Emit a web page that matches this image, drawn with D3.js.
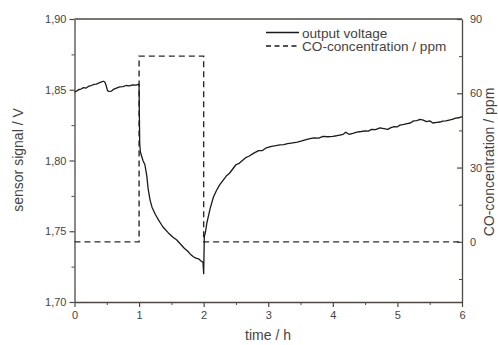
<!DOCTYPE html>
<html><head><meta charset="utf-8">
<script src="https://cdn.jsdelivr.net/npm/d3@7"></script>
<style>
body{margin:0;background:#fff;}
text{font-family:"Liberation Sans",Arial,sans-serif;fill:#444;}
</style></head>
<body><svg id="c" width="498" height="345"></svg>
<script>
const timeH = [0.00,0.03,0.06,0.10,0.14,0.18,0.22,0.26,0.30,0.34,0.38,0.42,0.45,0.47,0.49,0.51,0.53,0.57,0.61,0.65,0.70,0.75,0.80,0.85,0.90,0.95,0.99,1.00,1.005,1.01,1.02,1.04,1.06,1.09,1.12,1.14,1.17,1.20,1.25,1.30,1.37,1.45,1.52,1.58,1.64,1.70,1.75,1.79,1.84,1.88,1.92,1.96,1.99,2.00,2.005,2.01,2.03,2.05,2.07,2.10,2.15,2.20,2.25,2.30,2.35,2.40,2.45,2.50,2.55,2.60,2.65,2.70,2.77,2.85,2.91,2.97,3.05,3.12,3.18,3.24,3.30,3.38,3.45,3.52,3.60,3.70,3.78,3.85,3.92,4.00,4.06,4.11,4.16,4.20,4.25,4.31,4.37,4.44,4.50,4.55,4.60,4.66,4.73,4.79,4.85,4.90,4.95,5.00,5.04,5.10,5.15,5.20,5.25,5.30,5.35,5.40,5.45,5.50,5.55,5.61,5.66,5.70,5.75,5.80,5.85,5.90,5.95,6.00];
const voltage = [1.8485,1.8490,1.8500,1.8505,1.8515,1.8512,1.8525,1.8530,1.8538,1.8540,1.8548,1.8555,1.8560,1.8555,1.8530,1.8495,1.8488,1.8490,1.8505,1.8512,1.8520,1.8522,1.8530,1.8528,1.8535,1.8532,1.8538,1.8535,1.830,1.812,1.806,1.803,1.800,1.797,1.789,1.780,1.772,1.767,1.762,1.758,1.753,1.749,1.746,1.744,1.741,1.738,1.736,1.734,1.732,1.731,1.7305,1.729,1.728,1.720,1.733,1.746,1.750,1.756,1.760,1.766,1.774,1.779,1.783,1.786,1.789,1.791,1.794,1.797,1.798,1.800,1.802,1.803,1.805,1.807,1.807,1.809,1.810,1.8105,1.811,1.8112,1.812,1.8125,1.813,1.8138,1.815,1.816,1.8158,1.817,1.8168,1.817,1.8175,1.818,1.8185,1.820,1.8185,1.8192,1.820,1.8205,1.821,1.8208,1.822,1.8218,1.823,1.8225,1.822,1.8232,1.824,1.8238,1.825,1.8255,1.826,1.8265,1.828,1.8282,1.829,1.8285,1.8275,1.828,1.8265,1.827,1.8272,1.8278,1.828,1.8285,1.829,1.830,1.8302,1.831];
const coTime = [0,1,1,2,2,6];
const coPpm = [0,0,75,75,0,0];
const xTicks = [0,1,2,3,4,5,6];
const yLeftTicks = [1.70,1.75,1.80,1.85,1.90];
const yRightTicks = [0,30,60,90];
const legendLabels = ["output voltage","CO-concentration / ppm"];

const svg = d3.select("#c");
const L=74.5, R=462, T=19, B=302;
const x = d3.scaleLinear().domain([0,6]).range([L,R]);
const yL = d3.scaleLinear().domain([1.70,1.90]).range([B,T]);
const yR = d3.scaleLinear().domain([-24.3,90]).range([B,T]);
const axCol="#4d4843";

svg.append("line").attr("x1",L).attr("x2",R).attr("y1",T).attr("y2",T).attr("stroke",axCol).attr("stroke-width",1.3);

function styleAxis(g){
  g.select(".domain").attr("stroke",axCol).attr("stroke-width",1.3);
  g.selectAll(".tick line").attr("stroke",axCol).attr("stroke-width",1.2);
  g.selectAll(".tick text").style("font-size","11px").attr("fill","#444").style("font-family","Liberation Sans, Arial, sans-serif");
}
const gx = svg.append("g").attr("transform",`translate(0,${B})`)
  .call(d3.axisBottom(x).tickValues(xTicks).tickFormat(d3.format("d")).tickSize(5).tickSizeOuter(0).tickPadding(4));
styleAxis(gx);
svg.append("g").attr("transform",`translate(0,${B})`)
  .call(d3.axisBottom(x).tickValues(xTicks.slice(0,-1).map(d=>d+0.5)).tickFormat("").tickSize(3).tickSizeOuter(0))
  .call(g=>{g.select(".domain").remove();g.selectAll("line").attr("stroke",axCol);});

const fmtL = d=>d3.format(".2f")(d).replace(".",",");
const gl = svg.append("g").attr("transform",`translate(${L},0)`)
  .call(d3.axisLeft(yL).tickValues(yLeftTicks).tickFormat(fmtL).tickSize(5).tickSizeOuter(0).tickPadding(3));
styleAxis(gl);
svg.append("g").attr("transform",`translate(${L},0)`)
  .call(d3.axisLeft(yL).tickValues([1.725,1.775,1.825,1.875]).tickFormat("").tickSize(3).tickSizeOuter(0))
  .call(g=>{g.select(".domain").remove();g.selectAll("line").attr("stroke",axCol);});

const gr = svg.append("g").attr("transform",`translate(${R},0)`)
  .call(d3.axisRight(yR).tickValues(yRightTicks).tickSize(-5).tickSizeOuter(0).tickPadding(8));
styleAxis(gr);
svg.append("g").attr("transform",`translate(${R},0)`)
  .call(d3.axisRight(yR).tickValues([-15,15,45,75]).tickFormat("").tickSize(-3).tickSizeOuter(0))
  .call(g=>{g.select(".domain").remove();g.selectAll("line").attr("stroke",axCol);});

svg.append("text").attr("x",268).attr("y",340).attr("text-anchor","middle").style("font-size","14px").text("time / h");
svg.append("text").attr("transform",`translate(23,160) rotate(-90)`).attr("text-anchor","middle").style("font-size","14px").text("sensor signal / V");
svg.append("text").attr("transform",`translate(494,162) rotate(-90)`).attr("text-anchor","middle").style("font-size","14px").text("CO-concentration / ppm");

const co = coTime.map((t,i)=>[t,coPpm[i]]);
svg.append("path").datum(co).attr("fill","none").attr("stroke","#2a2a2a").attr("stroke-width",1.4)
  .attr("stroke-dasharray","6,4")
  .attr("d",d3.line().x(d=>x(d[0])).y(d=>yR(d[1])));

const v = timeH.map((t,i)=>[t,voltage[i]]);
svg.append("path").datum(v).attr("fill","none").attr("stroke","#1a1a1a").attr("stroke-width",1.3)
  .attr("stroke-linejoin","round")
  .attr("d",d3.line().x(d=>x(d[0])).y(d=>yL(d[1])));

const lg = svg.append("g");
lg.append("line").attr("x1",266).attr("x2",299).attr("y1",32.5).attr("y2",32.5).attr("stroke","#1a1a1a").attr("stroke-width",1.3);
lg.append("line").attr("x1",266).attr("x2",299).attr("y1",46).attr("y2",46).attr("stroke","#1a1a1a").attr("stroke-width",1.3).attr("stroke-dasharray","5,3.5");
lg.append("text").attr("x",302).attr("y",37.5).style("font-size","13.6px").text(legendLabels[0]);
lg.append("text").attr("x",302).attr("y",51).style("font-size","13.6px").text(legendLabels[1]);
</script></body></html>
